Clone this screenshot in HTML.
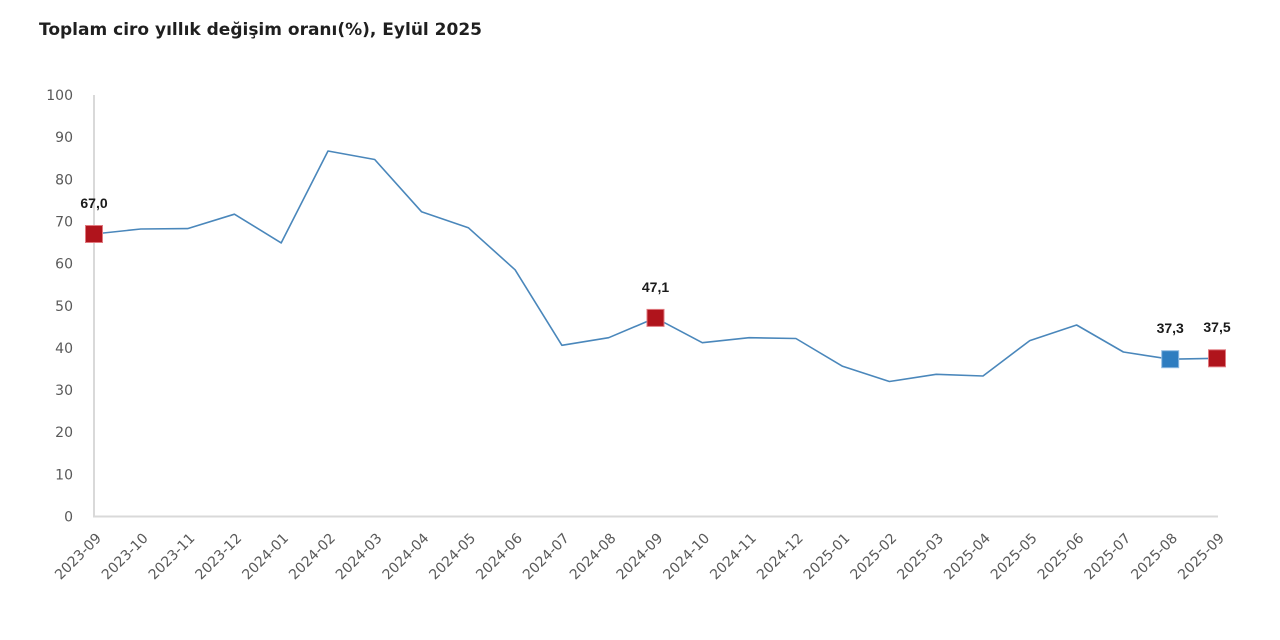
<!DOCTYPE html>
<html>
<head>
<meta charset="utf-8">
<style>
html,body{margin:0;padding:0;background:#fff;}
svg{display:block;}
</style>
</head>
<body>
<svg width="1280" height="640" viewBox="0 0 1280 640" xmlns="http://www.w3.org/2000/svg">
<rect width="1280" height="640" fill="#fff"/>
<text x="39" y="35" font-family="DejaVu Sans, sans-serif" font-weight="bold" font-size="17" fill="#1f1f1f" textLength="443" lengthAdjust="spacingAndGlyphs">Toplam ciro yıllık değişim oranı(%), Eylül 2025</text>

<!-- axes -->
<line x1="94" y1="95" x2="94" y2="516.5" stroke="#d9d9d9" stroke-width="2"/>
<line x1="93" y1="516.5" x2="1218" y2="516.5" stroke="#d9d9d9" stroke-width="2"/>

<!-- y labels -->
<g font-family="DejaVu Sans, sans-serif" font-size="14" fill="#595959" text-anchor="end">
<text x="73" y="100">100</text>
<text x="73" y="142.2">90</text>
<text x="73" y="184.3">80</text>
<text x="73" y="226.5">70</text>
<text x="73" y="268.6">60</text>
<text x="73" y="310.8">50</text>
<text x="73" y="352.9">40</text>
<text x="73" y="395.0">30</text>
<text x="73" y="437.2">20</text>
<text x="73" y="479.3">10</text>
<text x="73" y="521.5">0</text>
</g>

<!-- x labels -->
<g font-family="DejaVu Sans, sans-serif" font-size="14" fill="#595959" text-anchor="end">
<text transform="translate(102,539) rotate(-45)">2023-09</text>
<text transform="translate(148.8,539) rotate(-45)">2023-10</text>
<text transform="translate(195.6,539) rotate(-45)">2023-11</text>
<text transform="translate(242.4,539) rotate(-45)">2023-12</text>
<text transform="translate(289.2,539) rotate(-45)">2024-01</text>
<text transform="translate(336,539) rotate(-45)">2024-02</text>
<text transform="translate(382.7,539) rotate(-45)">2024-03</text>
<text transform="translate(429.5,539) rotate(-45)">2024-04</text>
<text transform="translate(476.3,539) rotate(-45)">2024-05</text>
<text transform="translate(523.1,539) rotate(-45)">2024-06</text>
<text transform="translate(569.9,539) rotate(-45)">2024-07</text>
<text transform="translate(616.7,539) rotate(-45)">2024-08</text>
<text transform="translate(663.5,539) rotate(-45)">2024-09</text>
<text transform="translate(710.3,539) rotate(-45)">2024-10</text>
<text transform="translate(757.1,539) rotate(-45)">2024-11</text>
<text transform="translate(803.9,539) rotate(-45)">2024-12</text>
<text transform="translate(850.6,539) rotate(-45)">2025-01</text>
<text transform="translate(897.4,539) rotate(-45)">2025-02</text>
<text transform="translate(944.2,539) rotate(-45)">2025-03</text>
<text transform="translate(991,539) rotate(-45)">2025-04</text>
<text transform="translate(1037.8,539) rotate(-45)">2025-05</text>
<text transform="translate(1084.6,539) rotate(-45)">2025-06</text>
<text transform="translate(1131.4,539) rotate(-45)">2025-07</text>
<text transform="translate(1178.2,539) rotate(-45)">2025-08</text>
<text transform="translate(1225,539) rotate(-45)">2025-09</text>
</g>

<!-- series -->
<polyline fill="none" stroke="#4a87bb" stroke-width="1.6" stroke-linejoin="round"
points="94,234.0 140.8,229.0 187.6,228.6 234.4,214.2 281.2,242.9 328.0,151.0 374.7,159.5 421.5,211.7 468.3,227.7 515.1,269.8 561.9,345.3 608.7,337.7 655.5,317.9 702.3,342.7 749.1,337.7 795.9,338.5 842.6,366.3 889.4,381.5 936.2,374.3 983.0,376.0 1029.8,340.6 1076.6,325.0 1123.4,352.0 1170.2,359.2 1217.0,358.3"/>

<!-- markers -->
<rect x="85.5" y="225.5" width="17" height="17" fill="#b0141c" stroke="#e07a80" stroke-width="1"/>
<rect x="647" y="309.4" width="17" height="17" fill="#b0141c" stroke="#e07a80" stroke-width="1"/>
<rect x="1161.7" y="350.7" width="17" height="17" fill="#2e7dc0" stroke="#8fbbe3" stroke-width="1"/>
<rect x="1208.5" y="349.8" width="17" height="17" fill="#b0141c" stroke="#e07a80" stroke-width="1"/>

<!-- data labels -->
<g font-family="Liberation Sans, Arial, sans-serif" font-weight="bold" font-size="14" fill="#1a1a1a" text-anchor="middle">
<text x="94" y="208">67,0</text>
<text x="655.5" y="292">47,1</text>
<text x="1170.2" y="333">37,3</text>
<text x="1217" y="332">37,5</text>
</g>
</svg>
</body>
</html>
